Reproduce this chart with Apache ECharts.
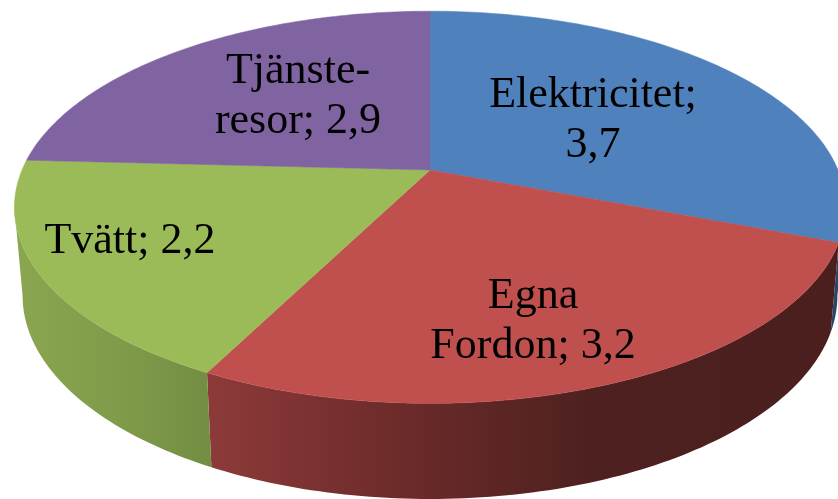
<!DOCTYPE html>
<html>
<head>
<meta charset="utf-8">
<style>
  html, body { margin: 0; padding: 0; background: #fff; }
  #chart { width: 838px; height: 499px; }
</style>
<script src="https://cdn.jsdelivr.net/npm/echarts@6/dist/echarts.min.js"></script>
</head>
<body>
<div id="chart"></div>
<script>
// data
var categories = ['Elektricitet', 'Egna Fordon', 'Tvätt', 'Tjänsteresor'];
var values = [3.7, 3.2, 2.2, 2.9];
// how the names wrap in the labels
var labelNames = ['Elektricitet;\n', 'Egna\nFordon; ', 'Tvätt; ', 'Tjänste-\nresor; '];

var colors = ['#4F81BD', '#C0504D', '#9BBB59', '#8064A2'];
var labelPos = [[593, 120], [533, 321], [130, 241], [298, 96]];
var wallFills = [
  [[0, '#2A4666'], [1, '#2A4666']],
  [[0, '#8C3A39'], [0.3, '#6C2B2A'], [0.6, '#4E2120'], [1, '#4A1F1E']],
  [[0, '#8AA650'], [0.5, '#809C4A'], [1, '#728C42']],
  [[0, '#4A3A5E'], [1, '#4A3A5E']]
];
var wallRange = [[12, 838], [212, 838], [12, 218], [12, 218]];

// perspective of the disc: k tilts it, the rings differ in size and height
var k = 0.19;
var topRing = { cx: 430, y0: 170, a: 189, b: 408 };
var bottomRing = { cx: 430, y0: 257, a: 196, b: 400 };
var frontStart = 101, frontEnd = 259;

var total = values.reduce(function (s, v) { return s + v; }, 0);

// degrees clockwise from 12 o'clock
function project(ring, deg) {
  var r = deg * Math.PI / 180;
  var u = Math.sin(r), v = -Math.cos(r);
  var d = 1 - k * v;
  return [ring.cx + ring.b * u / d, ring.y0 + ring.a * v / d];
}

function arc(ring, from, to) {
  var pts = [];
  var n = Math.max(2, Math.ceil(Math.abs(to - from)));
  for (var i = 0; i <= n; i++) {
    pts.push(project(ring, from + (to - from) * i / n));
  }
  return pts;
}

function renderSlice(params, api) {
  var idx = params.dataIndex;
  var before = 0;
  for (var i = 0; i < idx; i++) before += values[i];
  var from = before / total * 360;
  var to = (before + api.value(0)) / total * 360;

  var children = [];

  // side wall, only the part facing the viewer
  var wFrom = Math.max(from, frontStart), wTo = Math.min(to, frontEnd);
  if (wTo > wFrom) {
    var range = wallRange[idx];
    children.push({
      type: 'polygon',
      z2: 1,
      shape: { points: arc(topRing, wFrom, wTo).concat(arc(bottomRing, wTo, wFrom)) },
      style: {
        fill: new echarts.graphic.LinearGradient(range[0], 0, range[1], 0,
          wallFills[idx].map(function (s) { return { offset: s[0], color: s[1] }; }), true)
      }
    });
  }

  // top face
  children.push({
    type: 'polygon',
    z2: 2,
    shape: { points: [[topRing.cx, topRing.y0]].concat(arc(topRing, from, to)) },
    style: { fill: colors[idx], stroke: colors[idx], lineWidth: 0.5 }
  });

  children.push({
    type: 'text',
    z2: 3,
    style: {
      x: labelPos[idx][0],
      y: labelPos[idx][1],
      text: labelNames[idx] + String(api.value(0)).replace('.', ','),
      fill: '#000',
      font: '44px "Liberation Serif"',
      lineHeight: 50,
      align: 'center',
      verticalAlign: 'middle'
    }
  });

  return { type: 'group', children: children };
}

var chart = echarts.init(document.getElementById('chart'));
chart.setOption({
  animation: false,
  backgroundColor: '#fff',
  series: [{
    type: 'custom',
    name: 'Fördelning',
    coordinateSystem: 'none',
    renderItem: renderSlice,
    data: values.map(function (v, i) { return { name: categories[i], value: [v] }; })
  }]
});
</script>
</body>
</html>
